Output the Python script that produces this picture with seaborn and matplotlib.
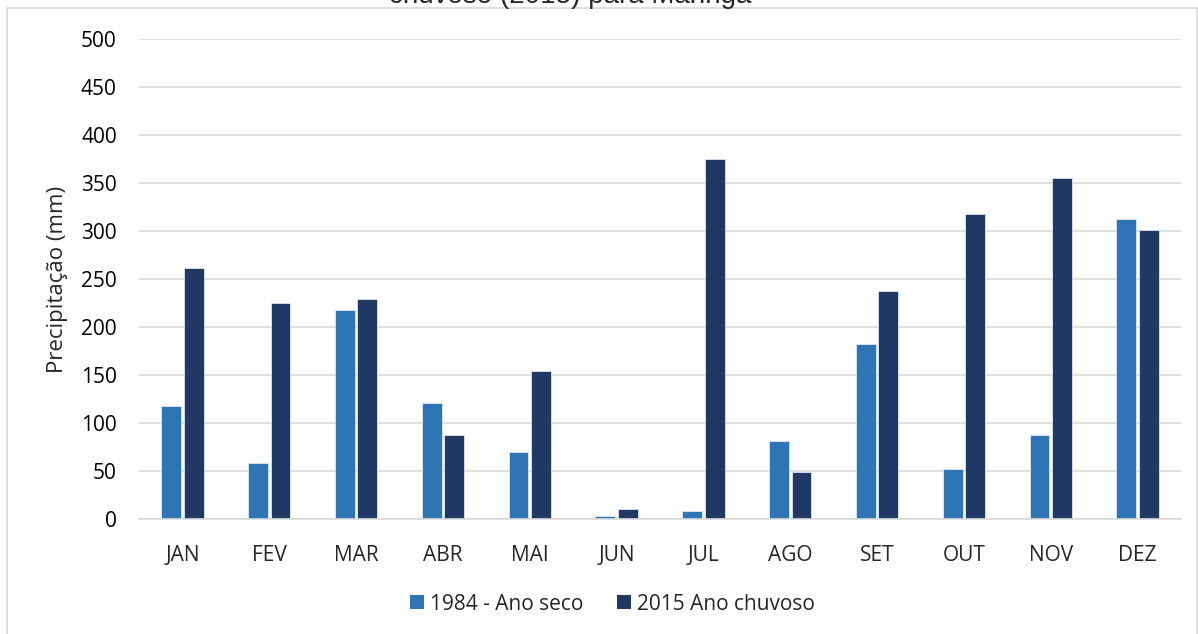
import matplotlib
matplotlib.use("Agg")
import matplotlib.pyplot as plt
from matplotlib.patches import Rectangle
import seaborn as sns
import pandas as pd

# Monthly rainfall (mm) in Maringá: a dry year and a wet year
meses = ["JAN", "FEV", "MAR", "ABR", "MAI", "JUN", "JUL", "AGO", "SET", "OUT", "NOV", "DEZ"]
ano_seco_1984 = [118, 58, 218, 121, 70, 3.5, 8, 81, 182, 52, 88, 313]
ano_chuvoso_2015 = [261, 225, 229, 88, 154, 10, 375, 49, 237, 318, 355, 301]
series = ["1984 - Ano seco", "2015 Ano chuvoso"]
cores = ["#2E75B6", "#203864"]
titulo = "chuvoso (2015) para Maringá"
y_ticks = [0, 50, 100, 150, 200, 250, 300, 350, 400, 450, 500]

df = pd.DataFrame({
    "mes": meses * 2,
    "precip": ano_seco_1984 + ano_chuvoso_2015,
    "serie": [series[0]] * len(meses) + [series[1]] * len(meses),
})

sns.set_style("white")
plt.rcParams["font.family"] = ["Open Sans", "DejaVu Sans"]

W, H = 1198, 634
fig = plt.figure(figsize=(W / 100, H / 100), dpi=100)
ax = fig.add_axes([139 / W, 1 - 519 / H, (1181 - 139) / W, (519 - 39) / H])

sns.barplot(data=df, x="mes", y="precip", hue="serie", order=meses,
            hue_order=series, palette=cores, saturation=1, width=0.52, gap=0.12,
            edgecolor="#dce6f2", linewidth=0.6, ax=ax, legend=True)

ax.set_ylim(0, 500)
ax.set_xlim(-0.5, len(meses) - 0.5)
ax.set_yticks(y_ticks)
ax.yaxis.grid(True, color="#D9D9D9", linewidth=1.2)
ax.set_axisbelow(True)
for s in ["left", "right", "top"]:
    ax.spines[s].set_visible(False)
ax.spines["bottom"].set_color("#D9D9D9")
ax.spines["bottom"].set_linewidth(1.2)

ax.tick_params(axis="y", length=0, pad=16, labelsize=15, labelcolor="#000000")
ax.tick_params(axis="x", which="major", length=0, pad=19, labelsize=15)
ax.set_xticks([i - 0.5 for i in range(len(meses) + 1)], minor=True)
ax.tick_params(axis="x", which="minor", length=6, width=1.2, color="#D9D9D9")
ax.set_xlabel("")
ax.set_ylabel("Precipitação (mm)", fontsize=16, labelpad=9)

leg = ax.legend(loc="center", bbox_to_anchor=(0.5 - 47.5 / 1042, -(604 - 519) / 480),
                ncol=2, frameon=False, fontsize=15, handlelength=0.68,
                handleheight=0.68, handletextpad=0.3, columnspacing=1.6,
                borderpad=0)
for h in leg.legend_handles:
    h.set_edgecolor("none")

# chart frame
fig.add_artist(Rectangle((7 / W, -0.05), (1197 - 7) / W, 1.05 - 8 / H,
                         transform=fig.transFigure, fill=False,
                         edgecolor="#D9D9D9", linewidth=1.2))

fig.text(570 / W, 1 - 3 / H, titulo, ha="center", va="baseline",
         fontsize=20, family=["Liberation Sans", "DejaVu Sans"])

fig.savefig("out.png", dpi=100, facecolor="white")
